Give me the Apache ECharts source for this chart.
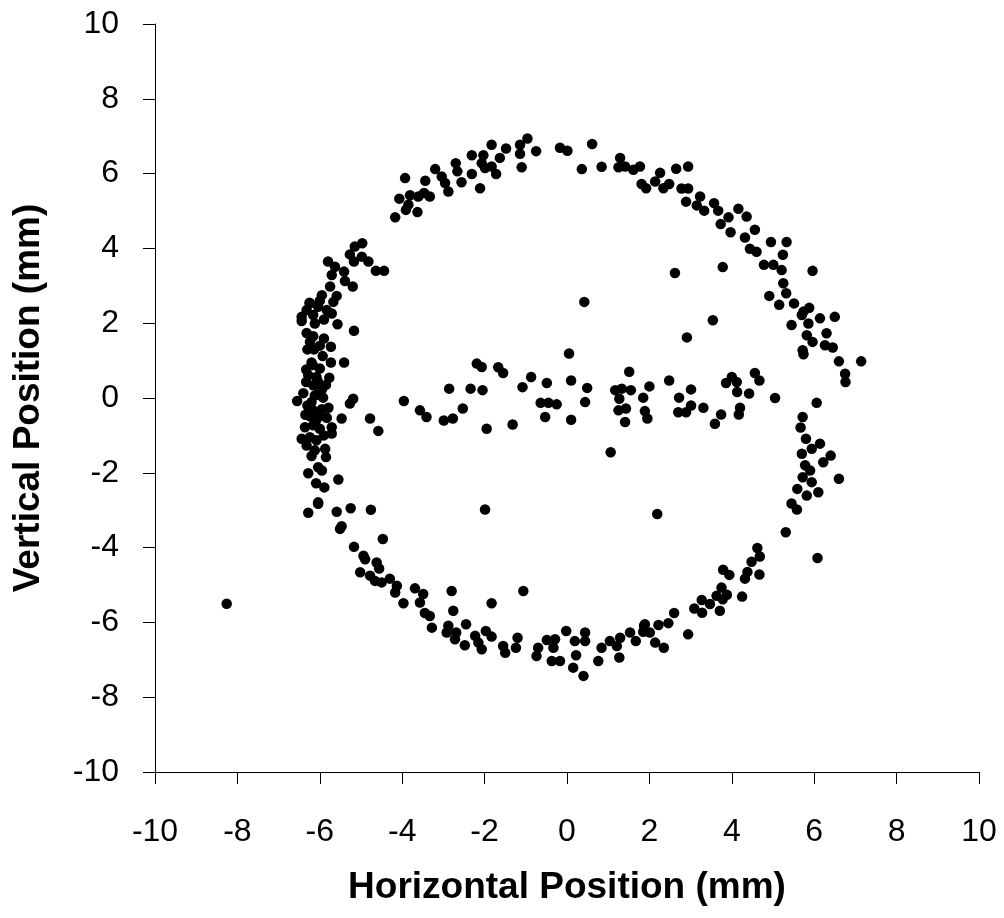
<!DOCTYPE html>
<html>
<head>
<meta charset="utf-8">
<script src="https://cdn.jsdelivr.net/npm/echarts@6/dist/echarts.min.js"></script>
<style>
  html, body { margin: 0; padding: 0; background: #fff; }
  #chart { width: 1004px; height: 918px; }
</style>
</head>
<body>
<div id="chart"></div>
<script>
// Axis settings
const xRange = [-10, 10];
const yRange = [-10, 10];
const tickStep = 2;
const xTitle = 'Horizontal Position (mm)';
const yTitle = 'Vertical Position (mm)';

// Data points [horizontal mm, vertical mm], grouped by region of the ring
const upperLeftArc = [
  [-3.93,5.88],[-3.44,5.81],[-4.07,5.33],[-3.81,5.42],[-3.61,5.39],[-3.47,5.48],[-3.91,5.03],[-3.63,4.97],[-4.17,4.83],[-3.85,5.17],
  [-4.97,4.14],[-5.15,4.05],[-5.27,3.84],[-5.17,3.65],[-4.98,3.78],[-4.82,3.65],[-4.64,3.40],[-4.44,3.40],[-5.80,3.65],[-5.63,3.51],
  [-5.71,3.29],[-5.41,3.38],[-5.39,3.13],[-5.20,2.98],[-5.75,2.98],[-5.95,2.75],[-5.59,2.73],[-5.67,2.57],[-6.24,2.53],[-6.04,2.44],
  [-6.32,2.35],[-5.83,2.35],[-6.44,2.17],[-6.16,2.22],[-5.71,2.26]
];
const topArc = [
  [-3.33,5.39],[-3.20,6.12],[-3.04,5.92],[-2.96,5.75],[-2.88,5.52],[-2.70,6.28],[-2.66,6.06],[-2.56,5.77],[-2.31,6.49],[-2.31,5.99],
  [-2.11,5.61],[-2.03,6.49],[-2.07,6.28],[-1.99,6.15],[-1.83,6.77],[-1.83,6.19],[-1.72,5.99],[-1.63,6.42],[-1.48,6.67],[-1.14,6.77],
  [-0.96,6.94],[-1.14,6.53],[-0.75,6.60],[-1.10,6.17],[-0.17,6.69],[0.01,6.61],[0.61,6.79],[0.36,6.12],[0.84,6.18],[1.29,6.42],
  [1.25,6.17],[1.41,6.19],[1.61,6.10],[1.77,6.19],[1.81,5.72],[1.92,5.61]
];
const upperRightArc = [
  [2.26,6.02],[2.14,5.79],[2.34,5.61],[2.48,5.72],[2.65,6.13],[2.94,6.19],[2.78,5.60],[2.94,5.60],[2.89,5.25],[3.23,5.39],
  [3.15,5.15],[3.33,5.01],[3.57,5.21],[3.67,5.01],[3.92,4.83],[3.73,4.65],[4.16,5.06],[4.36,4.85],[3.97,4.43],[4.56,4.50],
  [4.32,4.29],[4.44,3.99],[4.60,3.91],[4.95,4.17],[5.33,4.17],[4.78,3.56],[5.01,3.56],[5.24,3.83],[5.21,3.42],[5.96,3.40],
  [5.25,3.07],[5.32,2.80],[4.91,2.73],[5.15,2.49],[5.51,2.53],[5.74,2.31],[5.88,2.41],[6.14,2.13],[6.50,2.17],[5.70,2.22],
  [5.45,1.95],[5.86,1.99],[5.82,1.68],[5.96,1.50],[6.30,1.73],[6.26,1.41],[6.45,1.35],[5.72,1.28],[5.74,1.17],[6.60,0.98],
  [7.14,0.98],[6.75,0.65],[6.76,0.43]
];
const lowerRightArc = [
  [6.06,-0.13],[5.72,-0.51],[5.67,-0.79],[5.80,-1.09],[6.14,-1.22],[5.70,-1.49],[5.94,-1.36],[6.22,-1.72],[6.40,-1.54],[5.78,-1.80],
  [5.90,-1.94],[5.72,-2.12],[5.94,-2.25],[6.60,-2.16],[5.59,-2.43],[5.82,-2.61],[6.10,-2.52],[5.45,-2.82],[5.58,-2.98],[5.31,-3.59],
  [6.08,-4.28],[4.62,-4.01],[4.68,-4.24],[4.48,-4.38],[4.38,-4.65],[4.32,-4.83],[4.67,-4.72],[3.79,-4.59],[3.94,-4.73],[3.75,-5.07],
  [3.63,-5.29],[3.88,-5.26],[3.78,-5.38],[4.25,-5.31],[3.27,-5.40],[3.47,-5.51],[3.09,-5.63],[3.28,-5.74],[3.71,-5.69],[2.60,-5.75],
  [2.46,-6.02],[2.22,-6.07],[1.89,-6.05],[1.85,-6.25],[2.01,-6.27],[2.14,-6.54],[2.35,-6.68],[2.94,-6.32]
];
const bottomArc = [
  [-3.49,-5.24],[-3.57,-5.47],[-2.80,-5.16],[-1.83,-5.49],[-2.76,-5.69],[-3.45,-5.75],[-3.33,-5.83],[-3.28,-6.14],[-2.88,-6.09],[-2.92,-6.27],
  [-2.69,-6.27],[-2.45,-6.05],[-2.72,-6.45],[-2.48,-6.61],[-2.23,-6.36],[-2.15,-6.54],[-2.07,-6.72],[-1.97,-6.23],[-1.83,-6.38],[-1.55,-6.63],
  [-1.50,-6.81],[-1.20,-6.41],[-1.24,-6.68],[-0.70,-6.68],[-0.74,-6.90],[-0.49,-6.47],[-0.29,-6.45],[-0.33,-6.68],[-0.02,-6.23],[0.19,-6.50],
  [0.44,-6.27],[0.44,-6.50],[0.22,-6.88],[-0.37,-7.03],[-0.17,-7.03],[0.15,-7.21],[0.40,-7.43],[0.76,-7.03],[0.84,-6.68],[1.04,-6.50],
  [1.21,-6.63],[1.29,-6.41],[1.27,-6.94],[1.53,-6.27],[1.67,-6.50],[1.87,-6.09]
];
const lowerLeftArc = [
  [-6.28,-3.07],[-6.04,-2.83],[-5.59,-3.04],[-5.25,-2.95],[-4.76,-2.99],[-5.47,-3.43],[-5.51,-3.50],[-4.47,-3.77],[-5.17,-3.98],[-4.94,-4.22],
  [-4.90,-4.31],[-4.62,-4.40],[-4.56,-4.56],[-5.02,-4.66],[-4.78,-4.75],[-4.66,-4.89],[-4.50,-4.93],[-4.30,-4.83],[-4.13,-5.02],[-4.17,-5.20],
  [-3.97,-5.49],[-3.69,-5.09]
];
const leftArc = [
  [-6.44,2.06],[-6.12,1.99],[-5.57,1.97],[-5.17,1.80],[-6.32,1.74],[-6.16,1.65],[-5.90,1.59],[-6.24,1.50],[-5.73,1.37],[-6.14,1.30],
  [-5.93,1.12],[-5.73,0.95],[-5.41,0.95],[-6.33,0.76],[-6.17,0.88],[-6.00,0.79],[-6.28,0.61],[-6.08,0.56],[-5.77,0.54],[-6.33,0.43],
  [-6.16,0.34],[-5.95,0.23],[-6.40,0.13],[-6.12,0.07],[-5.92,0.01],[-6.55,-0.08],[-6.20,-0.11],[-5.19,-0.02],[-5.27,-0.15],[-5.79,-0.26],
  [-6.16,-0.33],[-6.24,-0.49],[-6.00,-0.49],[-5.83,-0.53],[-5.47,-0.55],[-4.78,-0.55],[-4.58,-0.88],[-6.36,-0.78],[-6.16,-0.73],[-6.00,-0.82],
  [-5.71,-0.78],[-5.71,-0.95],[-6.44,-1.09],[-6.24,-1.05],[-6.08,-1.13],[-6.32,-1.27],[-6.12,-1.40],[-5.87,-1.36],[-5.85,-1.58],[-6.28,-2.01],
  [-6.04,-1.85],[-5.95,-1.94],[-6.09,-2.28],[-5.89,-2.39],[-5.55,-2.18],[-6.04,-2.79],
  [-6.20,0.95],[-6.05,0.45],[-5.95,-0.30],[-6.30,-0.20],[-6.10,-0.62],[-5.90,-1.00],[-6.20,-1.55],[-6.30,1.30],[-6.25,2.55],[-6.00,2.60],
  [-5.90,2.10],[-6.00,1.40],[-6.05,0.10],[-5.85,0.35],[-6.35,-0.45]
];
const centerBand = [
  [-3.96,-0.08],[-3.57,-0.33],[-3.41,-0.51],[-2.86,0.25],[-2.99,-0.60],[-2.77,-0.55],[-2.53,-0.28],[-2.34,0.25],[-2.05,0.21],[-2.19,0.92],
  [-2.07,0.83],[-1.95,-0.82],[-1.67,0.82],[-1.55,0.67],[-1.32,-0.71],[-1.08,0.29],[-0.87,0.56],[-0.49,0.40],[-0.64,-0.13],[-0.45,-0.13],
  [-0.25,-0.17],[-0.53,-0.51],[0.05,1.19],[0.10,0.47],[0.10,-0.58],[0.49,0.27],[0.44,-0.11],[1.17,0.21],[1.33,0.25],[1.51,0.70],
  [1.55,0.21],[1.27,-0.02],[1.25,-0.33],[1.43,-0.28],[1.41,-0.64],[2.00,0.31],[2.48,0.47],[1.85,0.01],[1.89,-0.35],[1.95,-0.55],
  [2.72,0.01],[3.01,0.23],[3.01,-0.20],[2.70,-0.38],[2.89,-0.38],[3.31,-0.26],[3.74,-0.44],[3.59,-0.69],[3.86,0.40],[4.00,0.56],
  [4.12,0.43],[4.13,0.16],[4.42,0.12],[4.56,0.67],[4.67,0.47],[4.20,-0.26],[4.17,-0.44],[5.05,0.00]
];
const strayPoints = [
  [0.42,2.57],[2.62,3.34],[3.78,3.50],[3.54,2.08],[2.91,1.62],[1.06,-1.45],[2.19,-3.10],[-1.99,-2.98],[-1.06,-5.16],[-8.26,-5.50]
];

const allPoints = [].concat(upperLeftArc, topArc, upperRightArc, lowerRightArc, bottomArc, lowerLeftArc, leftArc, centerBand, strayPoints);

const FONT = "'Liberation Sans', Arial, Helvetica, sans-serif";
const chart = echarts.init(document.getElementById('chart'), null, { renderer: 'canvas' });
chart.setOption({
  animation: false,
  backgroundColor: '#ffffff',
  grid: { left: 155, right: 25, top: 24, bottom: 146, containLabel: false },
  xAxis: {
    type: 'value', min: xRange[0], max: xRange[1], interval: tickStep,
    axisLine: { onZero: false, lineStyle: { color: '#000', width: 1 } },
    axisTick: { inside: false, length: 12, lineStyle: { color: '#000', width: 1 } },
    axisLabel: { fontSize: 32, color: '#000', margin: 44, fontFamily: FONT },
    splitLine: { show: false },
    name: xTitle, nameLocation: 'middle', nameGap: 97,
    nameTextStyle: { fontSize: 37, fontWeight: 'bold', color: '#000', fontFamily: FONT }
  },
  yAxis: {
    type: 'value', min: yRange[0], max: yRange[1], interval: tickStep,
    axisLine: { onZero: false, lineStyle: { color: '#000', width: 1 } },
    axisTick: { inside: false, length: 12, lineStyle: { color: '#000', width: 1 } },
    axisLabel: { fontSize: 32, color: '#000', margin: 36, fontFamily: FONT },
    splitLine: { show: false },
    name: yTitle, nameLocation: 'middle', nameGap: 108,
    nameTextStyle: { fontSize: 37, fontWeight: 'bold', color: '#000', fontFamily: FONT }
  },
  series: [{
    type: 'scatter',
    data: allPoints,
    symbol: 'circle',
    symbolSize: 10.5,
    itemStyle: { color: '#000', opacity: 1 },
    emphasis: { disabled: true }
  }]
});
</script>
</body>
</html>
